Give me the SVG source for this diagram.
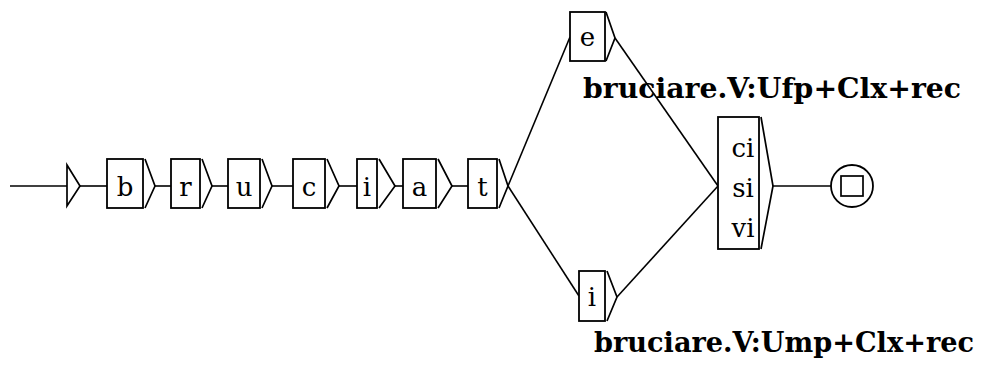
<svg xmlns="http://www.w3.org/2000/svg" width="985" height="367" viewBox="0 0 985 367">
<style>
.b{fill:#fff;stroke:#000;stroke-width:1.8}
.a{fill:none;stroke:#000;stroke-width:1.7}
.l{fill:none;stroke:#000;stroke-width:1.6}
.t{font-family:"DejaVu Serif","Liberation Serif",serif;font-size:26px;fill:#000;text-anchor:middle}
.lab{font-family:"DejaVu Serif","Liberation Serif",serif;font-size:28px;font-weight:bold;fill:#000}
</style>
<rect width="985" height="367" fill="#fff"/>
<g id="connectors">
<line class="l" x1="10" y1="186" x2="67" y2="186"/>
<line class="l" x1="80" y1="186" x2="107" y2="186"/>
<line class="l" x1="155" y1="186" x2="171" y2="186"/>
<line class="l" x1="212" y1="186" x2="228" y2="186"/>
<line class="l" x1="272" y1="186" x2="293" y2="186"/>
<line class="l" x1="339" y1="186" x2="357" y2="186"/>
<line class="l" x1="395" y1="186" x2="403" y2="186"/>
<line class="l" x1="452" y1="186" x2="468" y2="186"/>
<line class="l" x1="508" y1="186" x2="570" y2="37"/>
<line class="l" x1="508" y1="186" x2="579" y2="296"/>
<line class="l" x1="615" y1="38" x2="718" y2="186"/>
<line class="l" x1="617" y1="297" x2="718" y2="186"/>
<line class="l" x1="773" y1="186" x2="831" y2="186"/>
</g>
<g id="init">
<polygon class="a" points="67,165 80,186 67,206"/>
</g>
<g id="n_b">
<rect class="b" x="107" y="159" width="36" height="49"/>
<polyline class="a" points="145,159 155,186 145,208"/>
<text class="t" x="125" y="196">b</text>
</g>
<g id="n_r">
<rect class="b" x="171" y="159" width="29" height="49"/>
<polyline class="a" points="202,159 212,186 202,208"/>
<text class="t" x="185.5" y="196">r</text>
</g>
<g id="n_u">
<rect class="b" x="228" y="159" width="32" height="49"/>
<polyline class="a" points="262,159 272,186 262,208"/>
<text class="t" x="244" y="196">u</text>
</g>
<g id="n_c">
<rect class="b" x="293" y="159" width="32" height="49"/>
<polyline class="a" points="327,159 339,186 327,208"/>
<text class="t" x="309" y="196">c</text>
</g>
<g id="n_i">
<rect class="b" x="357" y="159" width="20" height="49"/>
<polyline class="a" points="379,159 395,186 379,208"/>
<text class="t" x="367" y="196">i</text>
</g>
<g id="n_a">
<rect class="b" x="403" y="159" width="33" height="49"/>
<polyline class="a" points="438,159 452,186 438,208"/>
<text class="t" x="419.5" y="196">a</text>
</g>
<g id="n_t">
<rect class="b" x="468" y="159" width="29" height="49"/>
<polyline class="a" points="499,159 508,186 499,208"/>
<text class="t" x="482.5" y="196">t</text>
</g>
<g id="n_e">
<rect class="b" x="570" y="12" width="35" height="49"/>
<polyline class="a" points="606,12 615,38 606,61"/>
<text class="t" x="587.5" y="46">e</text>
</g>
<g id="n_i2">
<rect class="b" x="579" y="271" width="26" height="50"/>
<polyline class="a" points="607,271 617,297 607,321"/>
<text class="t" x="592" y="306">i</text>
</g>
<g id="n_csv">
<rect class="b" x="718" y="117" width="41" height="132"/>
<polyline class="a" points="761,117 773,186 761,249"/>
<text class="t" x="743" y="157">ci</text>
<text class="t" x="743" y="197">si</text>
<text class="t" x="743" y="237">vi</text>
</g>
<g id="final">
<circle class="b" cx="852" cy="186" r="21"/>
<rect class="a" x="841" y="176" width="22" height="20"/>
</g>
<g id="labels">
<text class="lab" x="583" y="98" textLength="378" lengthAdjust="spacingAndGlyphs">bruciare.V:Ufp+Clx+rec</text>
<text class="lab" x="594" y="352" textLength="380" lengthAdjust="spacingAndGlyphs">bruciare.V:Ump+Clx+rec</text>
</g>
</svg>
